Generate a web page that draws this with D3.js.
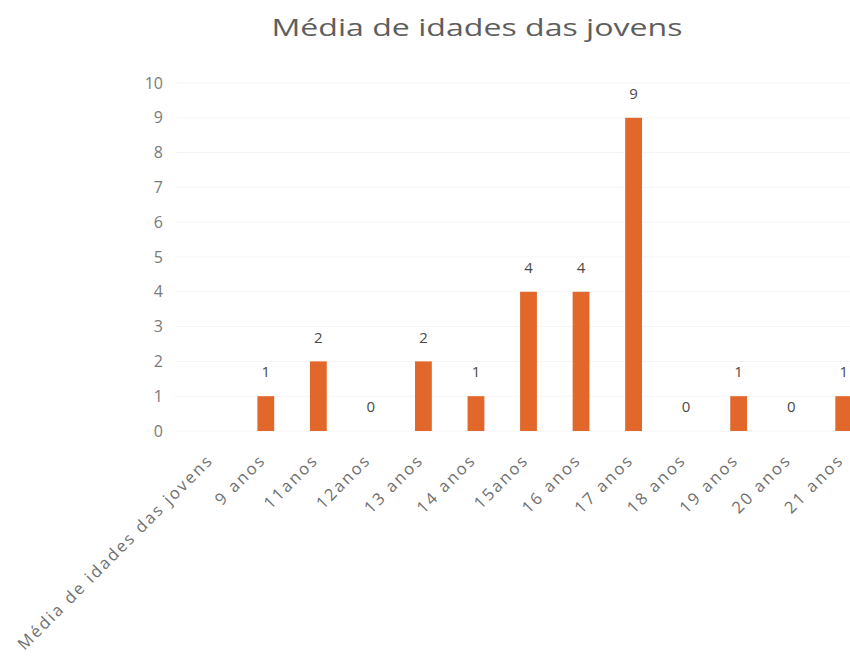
<!DOCTYPE html>
<html>
<head>
<meta charset="utf-8">
<script src="https://cdn.jsdelivr.net/npm/d3@7"></script>
<style>
  html, body { margin: 0; padding: 0; background: #fff; overflow: hidden; }
  svg { display: block; }
</style>
</head>
<body>
<svg id="chart" width="850" height="656"></svg>
<script>
const title = "Média de idades das jovens";
const categories = ["Média de idades das jovens", "9 anos", "11anos", "12anos", "13 anos", "14 anos", "15anos", "16 anos", "17 anos", "18 anos", "19 anos", "20 anos", "21 anos"];
const values = [null, 1, 2, 0, 2, 1, 4, 4, 9, 0, 1, 0, 1];
const yTicks = [0, 1, 2, 3, 4, 5, 6, 7, 8, 9, 10];

const svg = d3.select("#chart");
const font = "'Open Sans', 'Noto Sans', sans-serif";

const x = d3.scaleBand().domain(categories).range([187, 870]).paddingInner(0.68).paddingOuter(0.34);
const y = d3.scaleLinear().domain([0, 10]).range([431, 83]);

// gridlines
svg.append("g").selectAll("line").data(yTicks).join("line")
  .attr("x1", 175).attr("x2", 870)
  .attr("y1", d => y(d)).attr("y2", d => y(d))
  .attr("stroke", "#f4f4f4").attr("stroke-width", 1);

// title
svg.append("text")
  .attr("x", 477).attr("y", 36)
  .attr("text-anchor", "middle")
  .attr("font-family", font).attr("font-size", 24)
  .attr("textLength", 411).attr("lengthAdjust", "spacingAndGlyphs")
  .attr("fill", "#5e5e5e")
  .text(title);

// y axis
const yAxis = d3.axisLeft(y).tickValues(yTicks).tickSize(0).tickPadding(0).tickFormat(d3.format("d"));
const gy = svg.append("g").attr("transform", "translate(163,0)").call(yAxis);
gy.select(".domain").remove();
gy.selectAll("text").attr("font-family", font).attr("font-size", 16).attr("fill", "#7a7a7a");

// x axis labels
const xAxis = d3.axisBottom(x).tickSize(0).tickPadding(0);
const gx = svg.append("g").attr("transform", "translate(0,431)").call(xAxis);
gx.select(".domain").remove();
gx.selectAll(".tick text")
  .attr("font-family", font).attr("font-size", 16.5).attr("fill", "#707070")
  .attr("letter-spacing", "2.2px")
  .attr("text-anchor", "end")
  .attr("dy", "0.35em")
  .attr("transform", "translate(-3,26) rotate(-45)")
  .attr("y", 0).attr("x", 0);

// bars
const data = categories.map((c, i) => ({c, v: values[i]})).filter(d => d.v !== null);
svg.append("g").selectAll("rect").data(data).join("rect")
  .attr("x", d => x(d.c))
  .attr("width", x.bandwidth())
  .attr("y", d => y(d.v))
  .attr("height", d => y(0) - y(d.v))
  .attr("fill", "#e2672a");

// value labels
svg.append("g").selectAll("text").data(data).join("text")
  .attr("x", d => x(d.c) + x.bandwidth() / 2)
  .attr("y", d => y(d.v) - 24)
  .attr("dy", "0.35em")
  .attr("text-anchor", "middle")
  .attr("font-family", font).attr("font-size", 15)
  .attr("fill", "#4a4a4a")
  .text(d => d.v);
</script>
</body>
</html>
